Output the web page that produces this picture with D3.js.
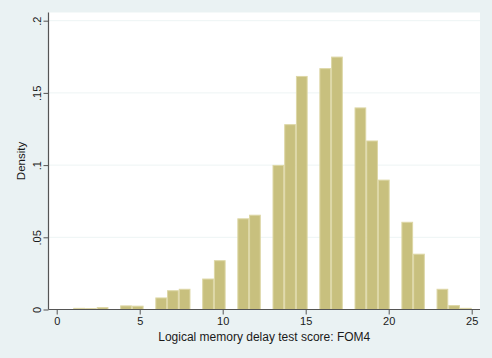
<!DOCTYPE html>
<html>
<head>
<meta charset="utf-8">
<script src="https://cdn.jsdelivr.net/npm/d3@7"></script>
<style>
  html, body { margin: 0; padding: 0; background: #eaf2f3; }
  svg { display: block; }
  text { font-family: "Liberation Sans", Arial, sans-serif; fill: #1a1a1a; }
</style>
</head>
<body>
<svg id="chart" width="492" height="358"></svg>
<script>
// ---- data ----
const scores = [1,2,3,4,5,6,7,8,9,10,11,12,13,14,15,16,17,18,19,20,21,22,23,24,25];
const density = [0.0008,0.0006,0.0013,0.0025,0.0023,0.0080,0.0130,0.0140,0.0211,0.0338,
                 0.0628,0.0653,0.0998,0.1280,0.1614,0.1668,0.1748,0.1396,0.1167,0.0896,
                 0.0604,0.0383,0.0140,0.0027,0.0008];
const binMin = 1, binMax = 25, nBins = 34;
const xTicks = [0,5,10,15,20,25];
const yTicks = [0,0.05,0.1,0.15,0.2];
const yTickLabels = ["0",".05",".1",".15",".2"];
const xTitle = "Logical memory delay test score: FOM4";
const yTitle = "Density";

// ---- layout ----
const W = 492, H = 358;
const plot = {left: 48.5, right: 480, top: 12.5, bottom: 309.5};
const svg = d3.select("#chart");

svg.append("rect").attr("x",0).attr("y",0).attr("width",W).attr("height",H).attr("fill","#eaf2f3");
svg.append("rect").attr("x",plot.left).attr("y",plot.top)
  .attr("width",plot.right-plot.left).attr("height",plot.bottom-plot.top).attr("fill","#ffffff");

const x = d3.scaleLinear().domain([0,25]).range([56.7,471.7]);
const y = d3.scaleLinear().domain([0,0.2]).range([309.5,20.7]);

// gridlines
svg.append("g").selectAll("line").data(yTicks.filter(d=>d>0)).join("line")
  .attr("x1",plot.left).attr("x2",plot.right)
  .attr("y1",d=>y(d)).attr("y2",d=>y(d))
  .attr("stroke","#edf4f4").attr("stroke-width",1);

// bars
const bw = (binMax-binMin)/nBins;
const bars = scores.map((s,i)=>{
  const k = Math.min(nBins-1, Math.floor((s-binMin)*nBins/(binMax-binMin)));
  return {x0: binMin + k*bw, x1: binMin + (k+1)*bw, v: density[i]};
});
svg.append("g").selectAll("rect").data(bars).join("rect")
  .attr("x",d=>x(d.x0)+0.5).attr("width",d=>x(d.x1)-x(d.x0)-1)
  .attr("y",d=>y(d.v)).attr("height",d=>y(0)-y(d.v))
  .attr("fill","#c8c07e").attr("stroke","#ddd7a6").attr("stroke-width",1);

// x axis
const xAxis = d3.axisBottom(x).tickValues(xTicks).tickSize(5).tickPadding(3).tickFormat(d3.format("d"));
const gx = svg.append("g").attr("transform",`translate(0,${plot.bottom})`).call(xAxis);
gx.select(".domain").remove();
gx.append("line").attr("x1",plot.left).attr("x2",plot.right).attr("y1",0).attr("y2",0)
  .attr("stroke","#555").attr("stroke-width",1.2);
gx.selectAll(".tick line").attr("stroke","#555");
gx.selectAll(".tick text").attr("font-size",11).attr("font-family","Liberation Sans, Arial, sans-serif").attr("fill","#1a1a1a");

// y axis
const yAxis = d3.axisLeft(y).tickValues(yTicks).tickSize(5).tickFormat((d,i)=>yTickLabels[i]);
const gy = svg.append("g").attr("transform",`translate(${plot.left},0)`).call(yAxis);
gy.select(".domain").remove();
gy.append("line").attr("x1",0).attr("x2",0).attr("y1",plot.top).attr("y2",plot.bottom)
  .attr("stroke","#555").attr("stroke-width",1.2);
gy.selectAll(".tick line").attr("stroke","#555");
gy.selectAll(".tick text")
  .attr("font-size",11).attr("font-family","Liberation Sans, Arial, sans-serif").attr("fill","#1a1a1a")
  .attr("x",null).attr("dy",null)
  .attr("text-anchor","middle")
  .attr("transform","translate(-8,0) rotate(-90)");

// titles
svg.append("text").attr("x",(plot.left+plot.right)/2).attr("y",341)
  .attr("text-anchor","middle").attr("font-size",12).text(xTitle);
svg.append("text").attr("transform",`translate(25,${(plot.top+plot.bottom)/2}) rotate(-90)`)
  .attr("text-anchor","middle").attr("font-size",11.5).text(yTitle);
</script>
</body>
</html>
